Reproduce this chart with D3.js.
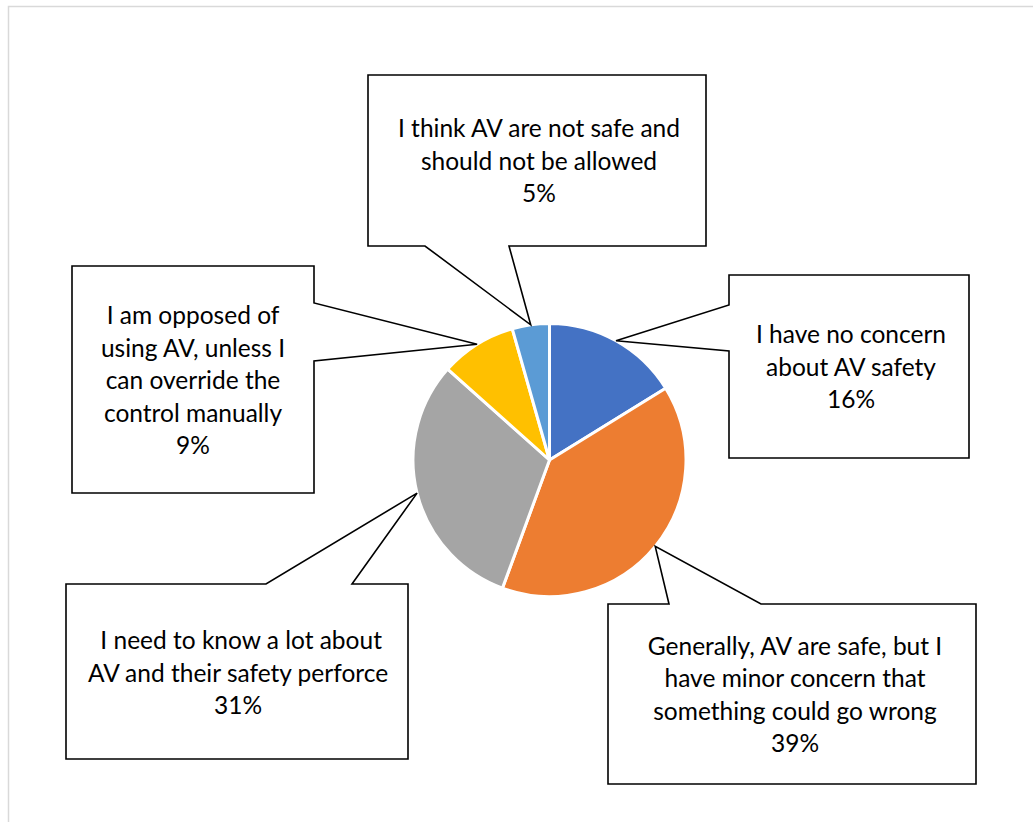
<!DOCTYPE html>
<html>
<head>
<meta charset="utf-8">
<script src="https://cdn.jsdelivr.net/npm/d3@7"></script>
<style>
  html, body { margin: 0; padding: 0; background: #fff; }
  svg { display: block; }
</style>
</head>
<body>
<svg id="chart" width="1033" height="822"></svg>
<script>
// ---- data ----
const categories = [
  "I have no concern about AV safety",
  "Generally, AV are safe, but I have minor concern that something could go wrong",
  "I need to know a lot about AV and their safety perforce",
  "I am opposed of using AV, unless I can override the control manually",
  "I think AV are not safe and should not be allowed"
];
const labelLines = [
  ["I have no concern", "about AV safety"],
  ["Generally, AV are safe, but I", "have minor concern that", "something could go wrong"],
  [" I need to know a lot about", "AV and their safety perforce"],
  ["I am opposed of", "using AV, unless I", "can override the", "control manually"],
  ["I think AV are not safe and", "should not be allowed"]
];
const values = [16.2, 39.4, 31.0, 9.0, 4.4];
const percentLabels = ["16%", "39%", "31%", "9%", "5%"];
const colors = ["#4472C4", "#ED7D31", "#A5A5A5", "#FFC000", "#5B9BD5"];

// ---- layout (callout boxes) ----
const boxes = [
  { x0: 729, y0: 275, x1: 969, y1: 458, side: "left",   a: 305, b: 351, lastBaseline: 408, tx: 851 },
  { x0: 608, y0: 604, x1: 976, y1: 784, side: "top",    a: 669, b: 761, lastBaseline: 752, tx: 795 },
  { x0: 66,  y0: 584, x1: 408, y1: 759, side: "top",    a: 266, b: 352, lastBaseline: 714, tx: 238 },
  { x0: 72,  y0: 266, x1: 314, y1: 493, side: "right",  a: 303, b: 361, lastBaseline: 454, tx: 193 },
  { x0: 368, y0: 75,  x1: 706, y1: 246, side: "bottom", a: 425, b: 509, lastBaseline: 202, tx: 539 }
];
const lineGap = 32.5;

const svg = d3.select("#chart");
const cx = 549.5, cy = 460, r = 136.5;

// outer chart border
svg.append("rect")
  .attr("x", 8.5).attr("y", 6.5)
  .attr("width", 1060).attr("height", 860)
  .attr("fill", "#fff")
  .attr("stroke", "#d9d9d9")
  .attr("stroke-width", 1.5);

const pie = d3.pie().sort(null).value(d => d)(values);
const arc = d3.arc().innerRadius(0).outerRadius(r);
const edgeArc = d3.arc().innerRadius(r).outerRadius(r);

const g = svg.append("g").attr("transform", `translate(${cx},${cy})`);
g.selectAll("path.slice")
  .data(pie)
  .join("path")
  .attr("class", "slice")
  .attr("d", arc)
  .attr("fill", (d, i) => colors[i])
  .attr("stroke", "#fff")
  .attr("stroke-width", 3)
  .attr("stroke-linejoin", "round");

// callouts
function calloutPath(b, tip) {
  const [tx, ty] = tip;
  const p = d3.path();
  if (b.side === "top") {
    p.moveTo(b.x0, b.y0); p.lineTo(b.a, b.y0); p.lineTo(tx, ty); p.lineTo(b.b, b.y0);
    p.lineTo(b.x1, b.y0); p.lineTo(b.x1, b.y1); p.lineTo(b.x0, b.y1); p.closePath();
  } else if (b.side === "bottom") {
    p.moveTo(b.x0, b.y0); p.lineTo(b.x1, b.y0); p.lineTo(b.x1, b.y1); p.lineTo(b.b, b.y1);
    p.lineTo(tx, ty); p.lineTo(b.a, b.y1); p.lineTo(b.x0, b.y1); p.closePath();
  } else if (b.side === "left") {
    p.moveTo(b.x0, b.y0); p.lineTo(b.x1, b.y0); p.lineTo(b.x1, b.y1); p.lineTo(b.x0, b.y1);
    p.lineTo(b.x0, b.b); p.lineTo(tx, ty); p.lineTo(b.x0, b.a); p.closePath();
  } else {
    p.moveTo(b.x0, b.y0); p.lineTo(b.x1, b.y0); p.lineTo(b.x1, b.a); p.lineTo(tx, ty);
    p.lineTo(b.x1, b.b); p.lineTo(b.x1, b.y1); p.lineTo(b.x0, b.y1); p.closePath();
  }
  return p.toString();
}

const callouts = svg.append("g").attr("class", "callouts");
pie.forEach((d, i) => {
  const b = boxes[i];
  const c = edgeArc.centroid(d);
  const tip = [cx + c[0], cy + c[1]];
  callouts.append("path")
    .attr("d", calloutPath(b, tip))
    .attr("fill", "#fff")
    .attr("stroke", "#000")
    .attr("stroke-width", 1.6)
    .attr("stroke-linejoin", "miter");

  const lines = labelLines[i].concat([percentLabels[i]]);
  const n = lines.length;
  const t = callouts.append("text")
    .attr("text-anchor", "middle")
    .attr("font-family", "Lato, 'Open Sans', sans-serif")
    .attr("font-size", 24.5)
    .attr("fill", "#000")
    .style("white-space", "pre");
  lines.forEach((ln, k) => {
    t.append("tspan")
      .attr("x", b.tx)
      .attr("y", b.lastBaseline - (n - 1 - k) * lineGap)
      .text(ln);
  });
});
</script>
</body>
</html>
